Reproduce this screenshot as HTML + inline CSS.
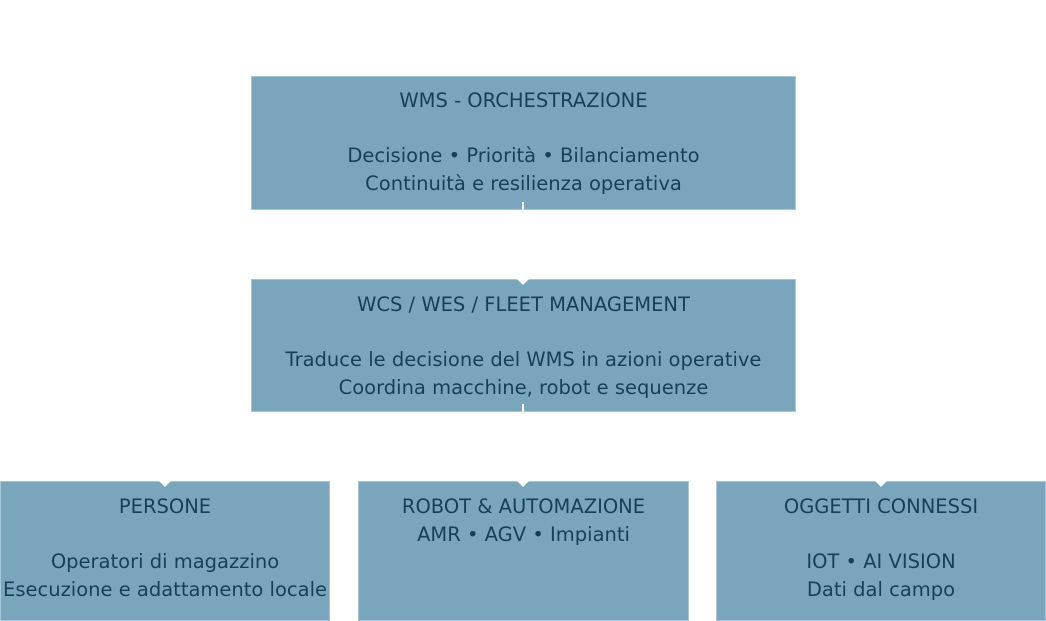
<!DOCTYPE html>
<html><head><meta charset="utf-8"><style>
body{margin:0;width:1046px;height:615px;background:#fff;position:relative;overflow:hidden;font-family:"DejaVu Sans","Liberation Sans",sans-serif;}
.b{position:absolute;background:#79a6bd;border:1px solid #a9c6d6;box-sizing:border-box;color:#173f5a;font-size:19.5px;text-align:center;}
.l{position:absolute;left:0;right:0;white-space:nowrap;}
.t{position:absolute;width:0;height:0;border-left:6px solid transparent;border-right:6px solid transparent;border-top:6px solid #fff;}
.v{position:absolute;width:2px;background:#fff;}
</style></head><body>
<div class="b" style="left:251px;top:76px;width:545px;height:134px">
<div class="l" style="top:12px">WMS - ORCHESTRAZIONE</div>
<div class="l" style="top:67px">Decisione • Priorità • Bilanciamento</div>
<div class="l" style="top:95px">Continuità e resilienza operativa</div>
</div>
<div class="v" style="left:522px;top:202px;height:8px"></div>
<div class="b" style="left:251px;top:279px;width:545px;height:133px">
<div class="l" style="top:13px">WCS / WES / FLEET MANAGEMENT</div>
<div class="l" style="top:68px">Traduce le decisione del WMS in azioni operative</div>
<div class="l" style="top:96px">Coordina macchine, robot e sequenze</div>
</div>
<div class="t" style="left:517px;top:279px"></div>
<div class="v" style="left:522px;top:404px;height:8px"></div>
<div class="b" style="left:0;top:481px;width:330px;height:140px">
<div class="l" style="top:13px">PERSONE</div>
<div class="l" style="top:68px">Operatori di magazzino</div>
<div class="l" style="top:96px">Esecuzione e adattamento locale</div>
</div>
<div class="t" style="left:159px;top:481px"></div>
<div class="b" style="left:358px;top:481px;width:331px;height:140px">
<div class="l" style="top:13px">ROBOT &amp; AUTOMAZIONE</div>
<div class="l" style="top:41px">AMR • AGV • Impianti</div>
</div>
<div class="t" style="left:517px;top:481px"></div>
<div class="b" style="left:716px;top:481px;width:330px;height:140px">
<div class="l" style="top:13px">OGGETTI CONNESSI</div>
<div class="l" style="top:68px">IOT • AI VISION</div>
<div class="l" style="top:96px">Dati dal campo</div>
</div>
<div class="t" style="left:875px;top:481px"></div>
</body></html>
